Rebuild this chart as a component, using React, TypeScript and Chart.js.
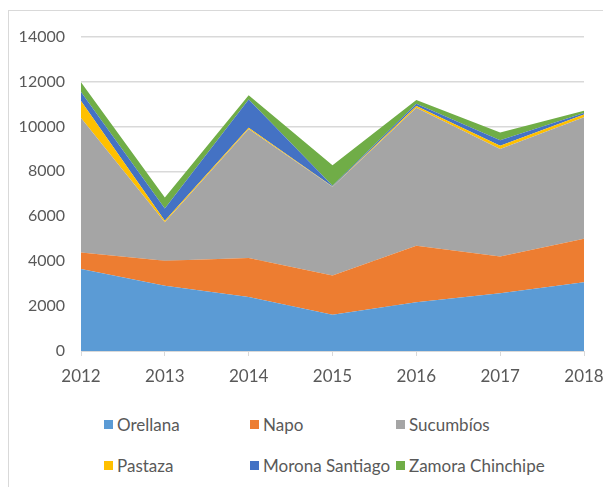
import React, { useEffect, useRef } from "react";
import { Chart, registerables } from "chart.js";

Chart.register(...registerables);

const years = ["2012", "2013", "2014", "2015", "2016", "2017", "2018"];
const orellana = [3650, 2910, 2400, 1610, 2170, 2570, 3060];
const napo = [740, 1110, 1740, 1750, 2520, 1640, 1940];
const sucumbios = [5990, 1710, 5750, 3950, 6140, 4780, 5410];
const pastaza = [750, 70, 50, 20, 80, 145, 120];
const morona = [400, 540, 1260, 30, 100, 255, 70];
const zamora = [440, 500, 190, 910, 165, 340, 100];

const seriesNames = ["Orellana", "Napo", "Sucumbíos", "Pastaza", "Morona Santiago", "Zamora Chinchipe"];
const seriesValues = [orellana, napo, sucumbios, pastaza, morona, zamora];
const seriesColors = ["#5B9BD5", "#ED7D31", "#A5A5A5", "#FFC000", "#4472C4", "#70AD47"];

const FONT = "Lato, 'Open Sans', sans-serif";
const TEXT = "#595959";
const GRID = "#d9d9d9";
const CANVAS_W = 594;
const CANVAS_H = 390;

export default function App() {
  const canvasRef = useRef<HTMLCanvasElement | null>(null);

  useEffect(() => {
    document.body.style.margin = "0";
    document.documentElement.style.overflow = "hidden";
    const ctx = canvasRef.current!.getContext("2d")!;
    const chart = new Chart(ctx, {
      type: "line",
      data: {
        labels: years,
        datasets: seriesNames.map((name, i) => ({
          label: name,
          data: seriesValues[i],
          backgroundColor: seriesColors[i],
          borderColor: seriesColors[i],
          borderWidth: 0,
          pointRadius: 0,
          tension: 0,
          fill: i === 0 ? "origin" : "-1",
        })),
      },
      options: {
        animation: false,
        responsive: false,
        maintainAspectRatio: false,
        layout: { padding: { left: 0, right: CANVAS_W - 575, top: 24, bottom: 0 } },
        plugins: { legend: { display: false }, tooltip: { enabled: false } },
        scales: {
          x: {
            offset: false,
            grid: { drawOnChartArea: false, drawTicks: true, tickLength: 5, color: GRID },
            border: { color: GRID, width: 1 },
            ticks: { color: TEXT, font: { family: FONT, size: 17 }, padding: 10, maxRotation: 0 },
            afterFit: (scale: any) => {
              scale.height = 50;
              scale.paddingLeft = 0;
              scale.paddingRight = 0;
            },
          },
          y: {
            stacked: true,
            min: 0,
            max: 14000,
            grid: { color: GRID, lineWidth: 1.5, drawTicks: false },
            border: { display: false },
            ticks: {
              stepSize: 2000,
              color: TEXT,
              font: { family: FONT, size: 16 },
              padding: 16,
              callback: (v: any) => String(v),
            },
            afterFit: (scale: any) => {
              scale.width = 72;
            },
          },
        },
      },
    });
    return () => chart.destroy();
  }, []);

  return (
    <div style={{ width: 603, height: 487, position: "relative", overflow: "hidden" }}>
      <div
        style={{
          position: "absolute",
          left: 8,
          top: 10,
          width: 595,
          height: 477,
          borderTop: `1px solid ${GRID}`,
          borderLeft: `1px solid ${GRID}`,
          boxSizing: "border-box",
          fontFamily: FONT,
        }}
      >
        <canvas
          ref={canvasRef}
          width={CANVAS_W}
          height={CANVAS_H}
          style={{ position: "absolute", left: 0, top: 0, width: CANVAS_W, height: CANVAS_H }}
        />
        {seriesNames.map((name, i) => {
          const col = i % 3;
          const row = Math.floor(i / 3);
          return (
            <div
              key={name}
              style={{
                position: "absolute",
                left: 95 + col * 146,
                top: 413 + row * 41 - 12,
                height: 24,
                display: "flex",
                alignItems: "center",
                whiteSpace: "nowrap",
                color: TEXT,
                fontSize: 17,
              }}
            >
              <span
                style={{
                  display: "inline-block",
                  width: 9,
                  height: 9,
                  background: seriesColors[i],
                  marginRight: 4,
                }}
              />
              <span>{name}</span>
            </div>
          );
        })}
      </div>
    </div>
  );
}
